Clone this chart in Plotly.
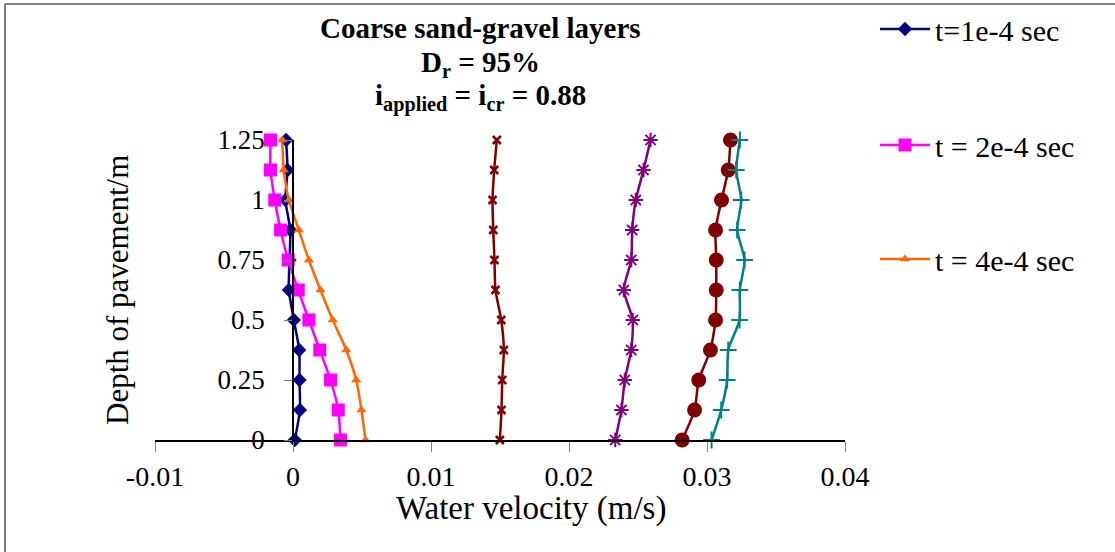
import plotly.graph_objects as go

depth = [0, 0.125, 0.25, 0.375, 0.5, 0.625, 0.75, 0.875, 1.0, 1.125, 1.25]

v_t1 = [0.00013, 0.0005, 0.00047, 0.00045, 0.00006, -0.0003, -0.00025, -0.0002, -0.00055, -0.0004, -0.0005]
v_t2 = [0.00344, 0.00328, 0.00272, 0.00194, 0.00115, 0.00038, -0.00035, -0.0009, -0.00132, -0.00163, -0.00163]
v_t4 = [0.00525, 0.00496, 0.00458, 0.00386, 0.00288, 0.00199, 0.00115, 0.00042, -0.0003, -0.00067, -0.00078]
v_s4 = [0.01499, 0.01511, 0.01516, 0.01528, 0.01509, 0.01467, 0.0146, 0.01451, 0.01446, 0.01458, 0.01477]
v_s5 = [0.02335, 0.0238, 0.02404, 0.02451, 0.02462, 0.02397, 0.02451, 0.02458, 0.02484, 0.0254, 0.02591]
v_s6 = [0.0282, 0.0291, 0.0294, 0.03025, 0.03062, 0.03067, 0.03067, 0.03062, 0.03105, 0.03154, 0.0317]
v_s7 = [0.03033, 0.03103, 0.03146, 0.03154, 0.03236, 0.03238, 0.03272, 0.03219, 0.03248, 0.03212, 0.03238]

names = ["t=1e-4 sec", "t = 2e-4 sec", "t = 4e-4 sec", "series 4", "series 5", "series 6", "series 7"]
x_tick_vals = [-0.01, 0, 0.01, 0.02, 0.03, 0.04]
x_tick_text = ["-0.01", "0", "0.01", "0.02", "0.03", "0.04"]
y_tick_vals = [0, 0.25, 0.5, 0.75, 1.0, 1.25]
y_tick_text = ["0", "0.25", "0.5", "0.75", "1", "1.25"]

FONT = "Liberation Serif, Times New Roman, serif"
W, H = 1115, 552

series = [
    (v_t1, "#000080", "diamond", 11, None, "legend"),
    (v_t2, "#FF00FF", "square", 13, None, "legend2"),
    (v_t4, "#FF6600", "triangle-up", 9, None, "legend3"),
    (v_s4, "#800000", "x-thin-open", 8, 2.5, None),
    (v_s5, "#800080", "asterisk-open", 12, 2, None),
    (v_s6, "#800000", "circle", 15, None, None),
    (v_s7, "#008080", "cross-thin-open", 12, 2, None),
]

fig = go.Figure()
for (vals, color, sym, size, lw, leg), name in zip(series, names):
    marker = dict(symbol=sym, size=size, color=color)
    if lw:
        marker["line"] = dict(color=color, width=lw)
    tr = go.Scatter(
        x=vals, y=depth, mode="lines+markers", name=name,
        line=dict(color=color, width=2.5, shape="spline", smoothing=0.6),
        marker=marker, cliponaxis=False,
        showlegend=leg is not None,
    )
    if leg:
        tr.legend = leg
    fig.add_trace(tr)

leg_common = dict(font=dict(family=FONT, size=30, color="black"), bgcolor="rgba(0,0,0,0)",
                  xanchor="left", yanchor="middle", itemwidth=50,
                  xref="container", yref="container", x=875 / W)
fig.update_layout(
    width=W, height=H,
    margin=dict(l=155, r=270, t=140, b=112, autoexpand=False),
    paper_bgcolor="white", plot_bgcolor="white",
    font=dict(family=FONT, color="black"),
    legend=dict(y=1 - 29 / H, **leg_common),
    legend2=dict(y=1 - 145 / H, **leg_common),
    legend3=dict(y=1 - 259 / H, **leg_common),
    xaxis=dict(range=[-0.01, 0.04], tickvals=x_tick_vals, ticktext=x_tick_text,
               showgrid=False, zeroline=False, showline=True, linecolor="black", linewidth=1.5,
               ticks="outside", ticklen=10, tickcolor="#808080", tickfont=dict(family=FONT, size=28),
               ticklabelstandoff=1),
    yaxis=dict(range=[0, 1.25], tickvals=y_tick_vals, ticktext=y_tick_text,
               anchor="free", position=0.2,
               showgrid=False, zeroline=False, showline=True, linecolor="black", linewidth=1.5,
               ticks="outside", ticklen=8, tickcolor="#808080", tickfont=dict(family=FONT, size=27),
               ticklabelstandoff=14),
)

ann = [
    dict(text="<b>Coarse sand-gravel layers</b>", x=480, y=28, size=29),
    dict(text="<b>D<sub>r</sub> = 95%</b>", x=480, y=64, size=29),
    dict(text="<b>i<sub>applied</sub> = i<sub>cr</sub> = 0.88</b>", x=480, y=97, size=29),
    dict(text="Water velocity (m/s)", x=531, y=508, size=33),
]
for a in ann:
    fig.add_annotation(text=a["text"], xref="paper", yref="paper",
                       x=(a["x"] - 155) / 690, y=(440 - a["y"]) / 300,
                       xanchor="center", yanchor="middle", showarrow=False,
                       font=dict(family=FONT, size=a["size"], color="black"))
fig.add_annotation(text="Depth of pavement/m", xref="paper", yref="paper",
                   x=(117 - 155) / 690, y=(440 - 290) / 300, textangle=-90,
                   xanchor="center", yanchor="middle", showarrow=False,
                   font=dict(family=FONT, size=31, color="black"))

# chart border (top and left edges visible)
fig.add_shape(type="line", xref="paper", yref="paper",
              x0=(5 - 155) / 690, x1=(1115 - 155) / 690, y0=(440 - 4) / 300, y1=(440 - 4) / 300,
              line=dict(color="#555555", width=1.5))
fig.add_shape(type="line", xref="paper", yref="paper",
              x0=(5 - 155) / 690, x1=(5 - 155) / 690, y0=(440 - 4) / 300, y1=(440 - 552) / 300,
              line=dict(color="#555555", width=1.5))

fig.write_html("out.html", config={"displayModeBar": False},
               post_script="document.body.style.margin='0';document.body.style.overflow='hidden';")
